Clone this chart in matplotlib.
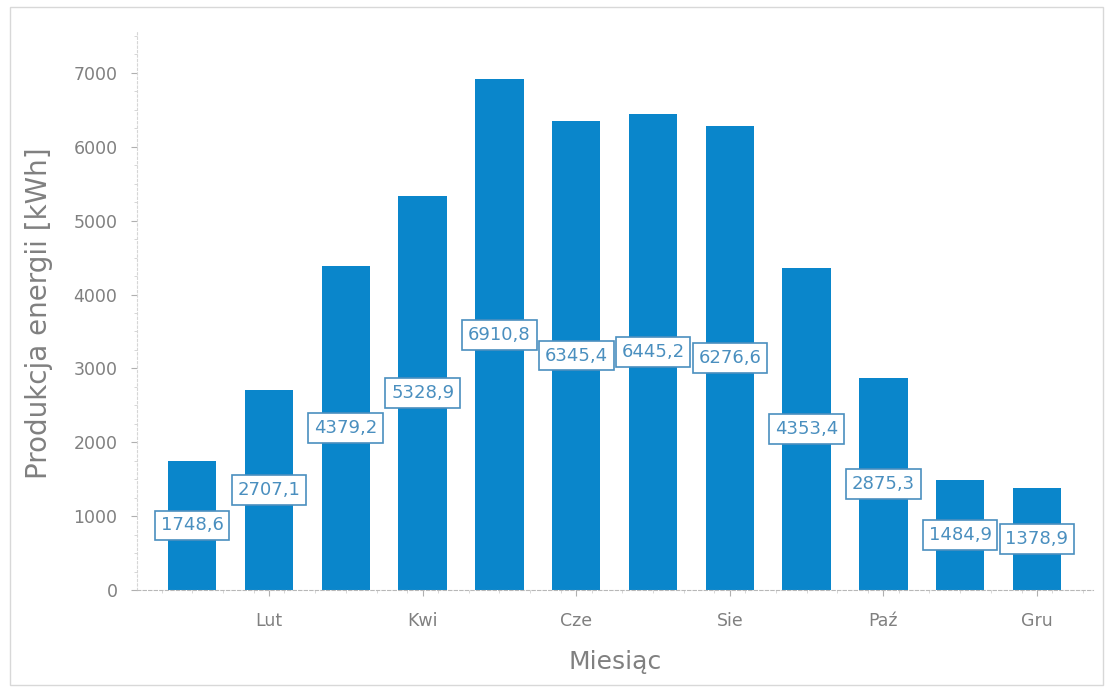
import matplotlib
matplotlib.use("Agg")
import matplotlib.pyplot as plt
from matplotlib.patches import Rectangle
from matplotlib.ticker import MultipleLocator

months = ["Sty", "Lut", "Mar", "Kwi", "Maj", "Cze", "Lip", "Sie", "Wrz", "Paź", "Lis", "Gru"]
values = [1748.6, 2707.1, 4379.2, 5328.9, 6910.8, 6345.4, 6445.2, 6276.6, 4353.4, 2875.3, 1484.9, 1378.9]
shown_ticks = [1, 3, 5, 7, 9, 11]
y_ticks = [0, 1000, 2000, 3000, 4000, 5000, 6000, 7000]

bar_color = "#0a86cb"
text_gray = "#808080"
label_blue = "#4a8fbf"

fig = plt.figure(figsize=(11.1, 6.9), dpi=100)
fig.patches.append(Rectangle((0.009, 0.007), 0.985, 0.983, transform=fig.transFigure,
                             fill=False, edgecolor="#d8d8d8", linewidth=1.0))
ax = fig.add_axes([0.1234, 0.1449, 0.8613, 0.8116])

x = list(range(len(values)))
ax.bar(x, values, width=0.63, color=bar_color, zorder=2)

for xi, v in zip(x, values):
    ax.text(xi, v / 2, f"{v:.1f}".replace(".", ","), ha="center", va="center",
            fontsize=13, color=label_blue, zorder=3,
            bbox=dict(boxstyle="square,pad=0.32", facecolor="white",
                      edgecolor=label_blue, linewidth=1.2))

ax.set_xlim(-0.72, 11.73)
ax.set_ylim(0, 7580)
ax.set_xticks(shown_ticks)
ax.set_xticklabels([months[i] for i in shown_ticks])
ax.xaxis.set_minor_locator(MultipleLocator(0.4))
ax.set_yticks(y_ticks)
ax.yaxis.set_minor_locator(MultipleLocator(250))

ax.tick_params(axis="both", which="major", labelsize=12.5, labelcolor=text_gray,
               color="#b0b0b0", length=4, width=0.8)
ax.tick_params(axis="x", which="major", pad=12)
ax.tick_params(axis="y", which="major", pad=10)
ax.tick_params(axis="both", which="minor", color="#d0d0d0", length=2, width=0.6)

for side in ["top", "right"]:
    ax.spines[side].set_visible(False)
ax.spines["left"].set_color("#d6d6d6")
ax.spines["left"].set_linestyle((0, (2, 2)))
ax.spines["bottom"].set_color("#b8b8b8")
ax.spines["bottom"].set_linestyle((0, (3, 2)))

ax.set_ylabel("Produkcja energii [kWh]", fontsize=20, color=text_gray)
ax.yaxis.set_label_coords(-0.088, 0.495)
ax.set_xlabel("Miesiąc", fontsize=18, color=text_gray, labelpad=14)

fig.savefig("out.png", dpi=100)
